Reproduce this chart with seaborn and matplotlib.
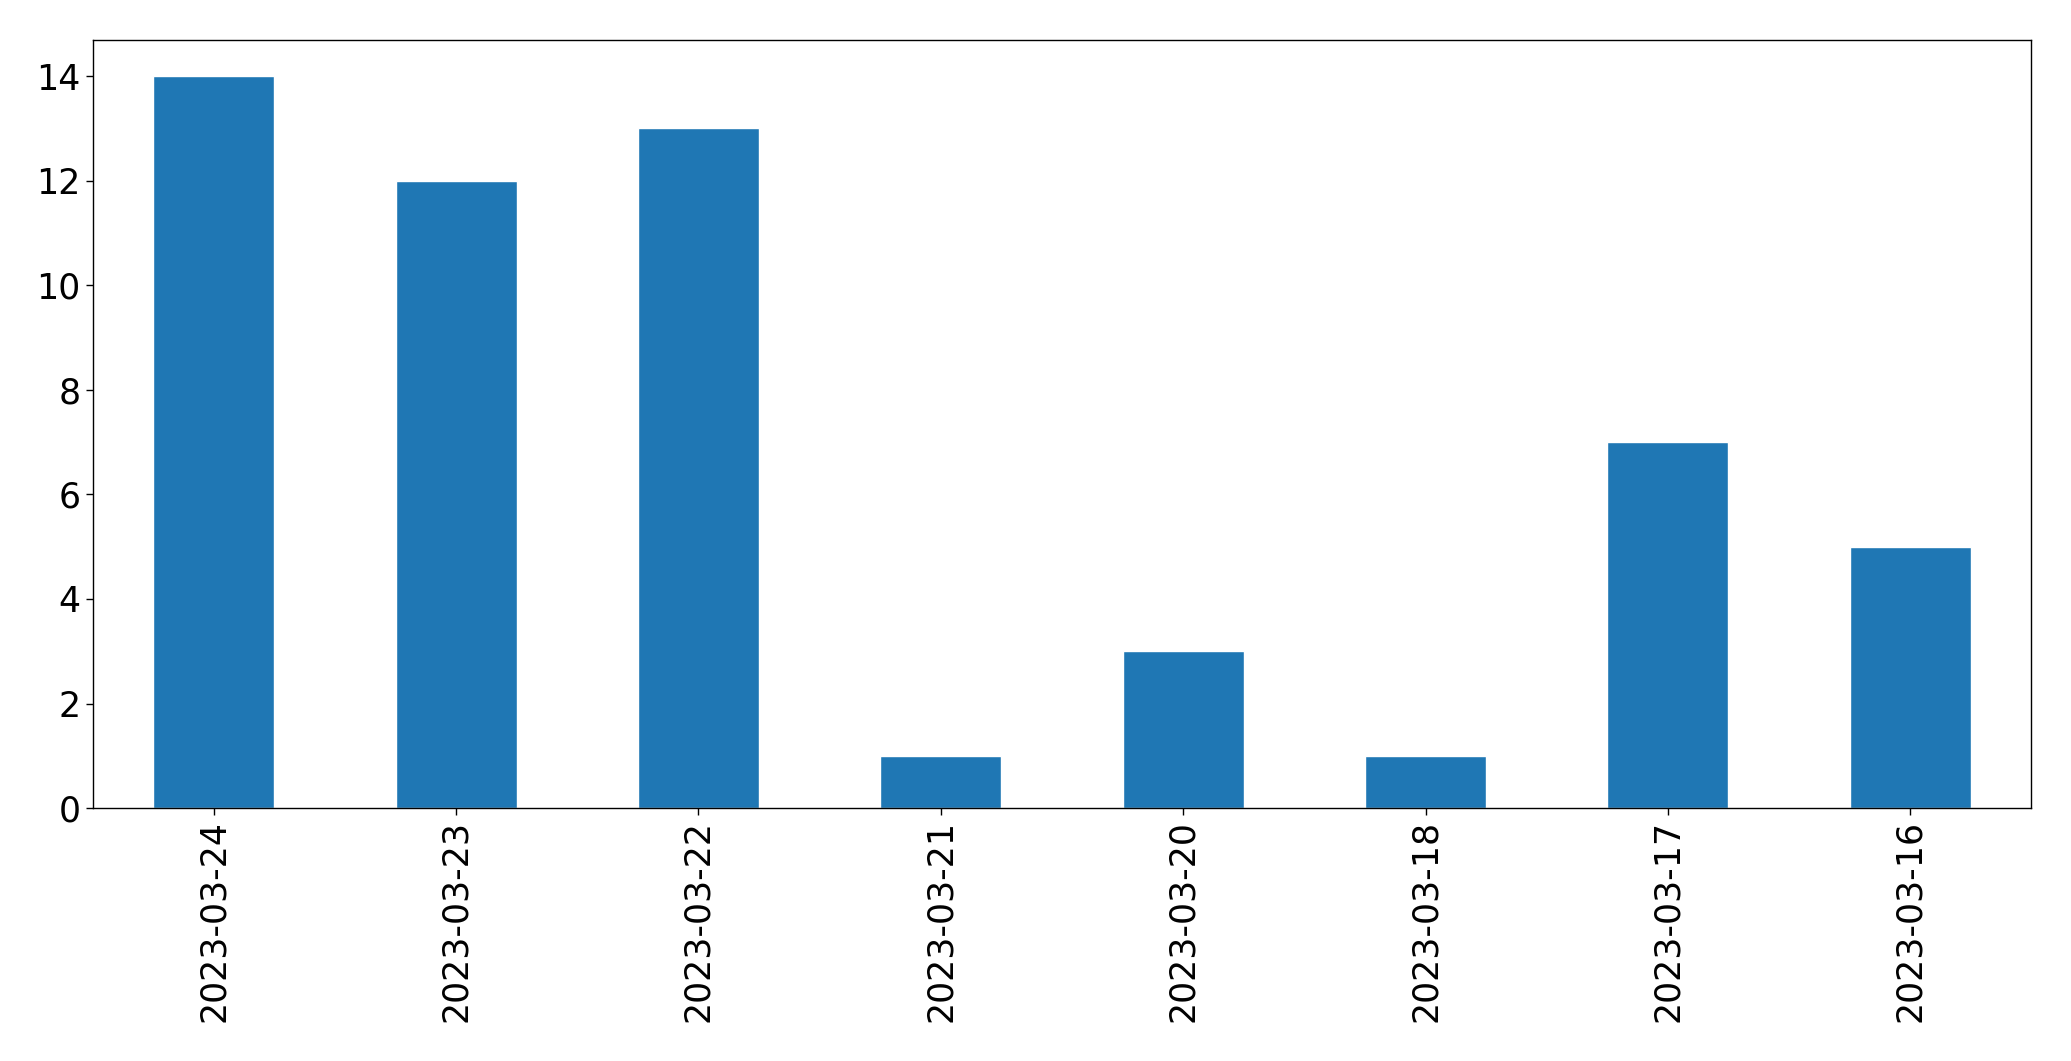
import matplotlib
matplotlib.use("Agg")
import matplotlib.pyplot as plt
import seaborn as sns
import pandas as pd

# values
dates  = ["2023-03-24", "2023-03-23", "2023-03-22", "2023-03-21",
          "2023-03-20", "2023-03-18", "2023-03-17", "2023-03-16"]
counts = [14, 12, 13, 1, 3, 1, 7, 5]

df = pd.DataFrame({"date": dates, "count": counts})

sns.set_style("white")
plt.rcParams["font.family"] = ["DejaVu Sans"]

fig, ax = plt.subplots(figsize=(20.71, 10.61), dpi=100)
fig.subplots_adjust(left=0.0447, right=0.9809, top=0.9627, bottom=0.2384)

sns.barplot(data=df, x="date", y="count", color="#1f77b4",
            saturation=1, width=0.5, ax=ax)

ax.set_xlim(-0.5, len(dates) - 0.5)
ax.set_ylim(0, max(counts) * 1.05)
ax.set_yticks(range(0, 15, 2))
ax.set_xlabel("")
ax.set_ylabel("")
ax.tick_params(axis="both", labelsize=25, length=5, width=1, direction="out",
               bottom=True, left=True, color="black", labelcolor="black")
ax.tick_params(axis="x", labelrotation=90)
for s in ax.spines.values():
    s.set_visible(True)
    s.set_color("black")
    s.set_linewidth(1)

plt.savefig("out.png", dpi=100)
